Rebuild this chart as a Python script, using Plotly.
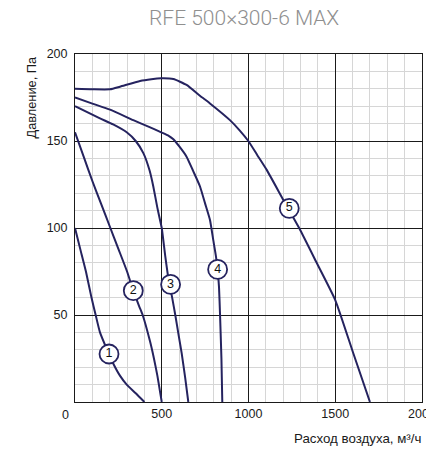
import plotly.graph_objects as go

# ---- data ----
q1 = [0, 30, 63, 95, 119, 144, 185, 221, 260, 298, 350, 400]
p1 = [100, 88, 75, 60, 50, 40, 30, 22, 15, 10, 5, 0]

q2 = [0, 50, 100, 150, 200, 250, 300, 336, 370, 390, 432, 455, 475, 490, 500]
p2 = [155, 141, 127, 114, 101, 88, 75, 64, 55, 50, 35, 25, 15, 6, 0]

q3 = [0, 144, 220, 298, 350, 394, 430, 451, 474, 490, 500, 520, 540, 560, 578, 598, 615, 635, 653]
p3 = [170, 163, 159.5, 155, 150, 143, 133, 124, 112, 104.6, 100, 84, 70, 60, 50, 38, 28, 14, 0]

q4 = [0, 100, 202, 336, 430, 497, 540, 567, 600, 643, 680, 720, 750, 778, 797, 812, 822, 830, 836, 844, 849]
p4 = [175, 171.5, 168, 162, 158, 155, 153, 151, 147, 141, 133, 124, 114, 104.6, 93, 84, 76, 66, 50, 25, 0]

q5 = [0, 100, 202, 259, 375, 440, 497, 567, 643, 720, 778, 893, 950, 999, 1050, 1105, 1201, 1297, 1393, 1500, 1604, 1700]
p5 = [180, 179.7, 179.7, 181.2, 184.5, 185.5, 186, 185.6, 182.2, 176, 171.6, 162, 156, 150, 142, 133.4, 116.1, 99, 80, 58.6, 28, 0]

label_names = ["1", "2", "3", "4", "5"]
label_q = [196, 336, 551, 822, 1235]
label_p = [27.6, 64, 67.6, 76.2, 111.3]

x_ticks = [500, 1000, 1500, 2000]
y_ticks = [50, 100, 150, 200]

title_text = "RFE 500×300-6 MAX"
x_title = "Расход воздуха, м³/ч"
y_title = "Давление, Па"

LINE = "#25235f"
FONT = "Liberation Sans, Arial, sans-serif"

fig = go.Figure()
for q, p in [(q1, p1), (q2, p2), (q3, p3), (q4, p4), (q5, p5)]:
    fig.add_trace(go.Scatter(x=q, y=p, mode="lines",
                             line=dict(color=LINE, width=2, shape="spline", smoothing=0.5),
                             hoverinfo="skip", showlegend=False, cliponaxis=True))

fig.add_trace(go.Scatter(x=label_q, y=label_p, mode="markers+text", text=label_names,
                         textposition="middle center",
                         textfont=dict(family=FONT, size=12.5, color="#111"),
                         marker=dict(size=19, color="white", line=dict(color=LINE, width=1.8)),
                         hoverinfo="skip", showlegend=False, cliponaxis=False))

fig.update_layout(
    width=426, height=452,
    margin=dict(l=75, r=4, t=54, b=50, autoexpand=False),
    paper_bgcolor="white", plot_bgcolor="white",
    font=dict(family=FONT, size=12.5, color="#1a1a1a"),
    showlegend=False,
    xaxis=dict(range=[0, 2000], tickvals=x_ticks, ticks="", showgrid=True, automargin=False,
               gridcolor="#1a1a1a", gridwidth=1, zeroline=False,
               showline=True, linecolor="#1a1a1a", linewidth=1, mirror=True,
               minor=dict(dtick=100, showgrid=True, gridcolor="#d6d6d6", gridwidth=1),
               tickfont=dict(size=12.5), ticklabeloverflow="allow", fixedrange=True),
    yaxis=dict(range=[0, 200], tickvals=y_ticks, ticks="", showgrid=True, automargin=False,
               gridcolor="#1a1a1a", gridwidth=1, zeroline=False,
               showline=True, linecolor="#1a1a1a", linewidth=1, mirror=True,
               minor=dict(dtick=10, showgrid=True, gridcolor="#d6d6d6", gridwidth=1),
               tickfont=dict(size=12.5), ticklabelstandoff=4, fixedrange=True),
    annotations=[
        dict(text=title_text, xref="paper", yref="paper", x=(244 - 75) / 347, y=1,
             yshift=36, xanchor="center", yanchor="middle", showarrow=False,
             font=dict(family="Roboto, Liberation Sans, sans-serif", size=21, color="#8f8f8f", weight=300)),
        dict(text="0", xref="x", yref="paper", x=0, y=0, xshift=-10, yshift=-13,
             xanchor="center", yanchor="middle", showarrow=False, font=dict(size=12.5)),
        dict(text=x_title, xref="paper", yref="paper", x=1, y=0, xshift=1, yshift=-36,
             xanchor="right", yanchor="middle", showarrow=False, font=dict(size=13.3)),
        dict(text=y_title, xref="paper", yref="paper", x=0, y=1, xshift=-44,
             xanchor="center", yanchor="top", textangle=-90, showarrow=False, font=dict(size=12.8)),
    ],
)

# remove the page's default body margin and scrollbars so the figure fills the window
page_fix = ("document.documentElement.style.overflow='hidden';"
            "document.body.style.margin='0';"
            "document.body.style.overflow='hidden';")

fig.write_html("out.html", post_script=page_fix, config={"displayModeBar": False})
